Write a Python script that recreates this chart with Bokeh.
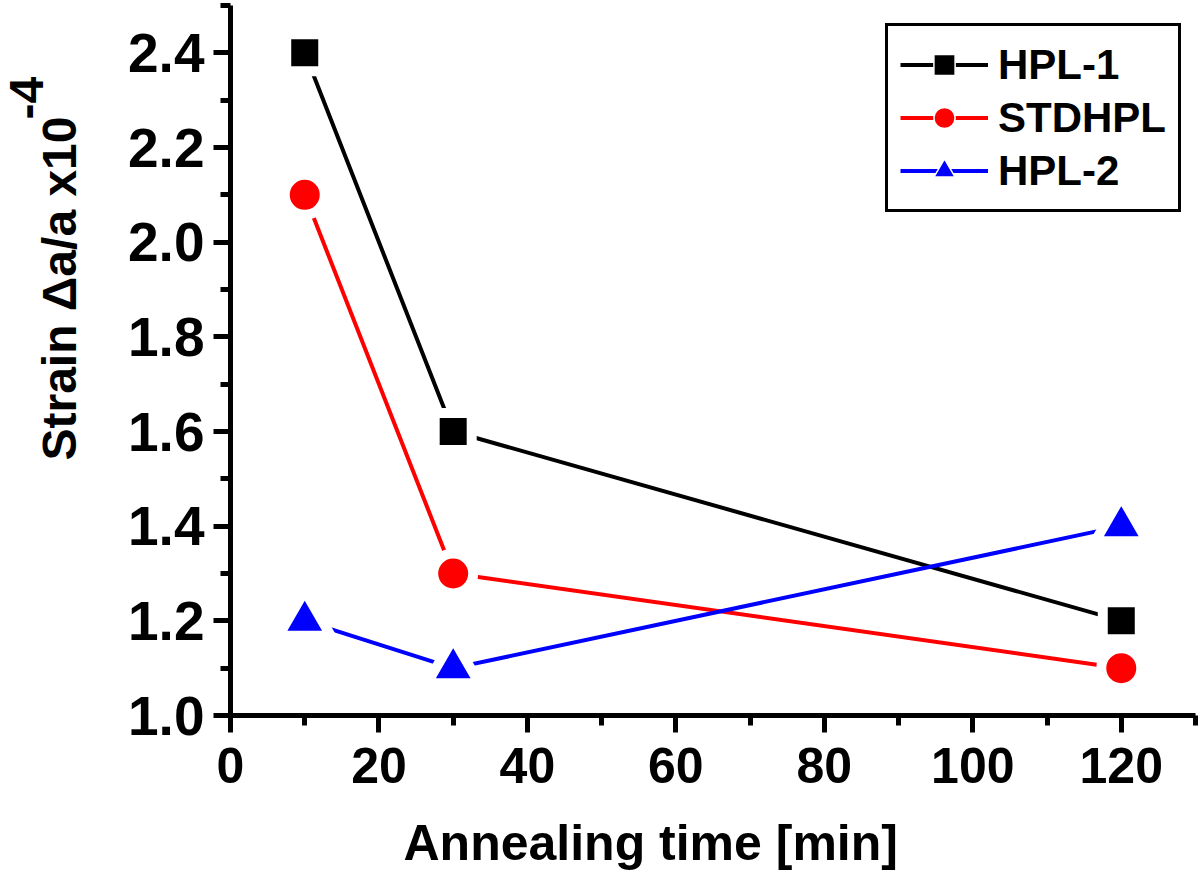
import numpy as np
from bokeh.plotting import figure
from bokeh.layouts import row, column
from bokeh.models import (Range1d, Legend, LegendItem, Label, FixedTicker,
                          NumeralTickFormatter, ColumnDataSource)
from bokeh.embed import file_html
from bokeh.resources import INLINE

# ---- data ----
time_min = [10, 30, 120]
hpl1 = [2.4, 1.6, 1.2]
stdhpl = [2.1, 1.3, 1.1]
hpl2 = [1.2, 1.1, 1.4]
series_names = ["HPL-1", "STDHPL", "HPL-2"]
x_major_ticks = [0, 20, 40, 60, 80, 100, 120]
x_minor_ticks = [10, 30, 50, 70, 90, 110, 130]
y_major_ticks = [1.0, 1.2, 1.4, 1.6, 1.8, 2.0, 2.2, 2.4]
y_minor_ticks = [1.1, 1.3, 1.5, 1.7, 1.9, 2.1, 2.3, 2.5]
x_title = "Annealing time [min]"
y_title = "Strain \u0394a/a x10"
y_title_exp = "-4"

FONT = "Liberation Sans"
H = 870
LEFT_W = 110
MAIN_W = 1090
MAIN_H = 805
BOT_H = H - MAIN_H


def blank(width, height):
    f = figure(width=width, height=height, x_range=Range1d(0, 1),
               y_range=Range1d(0, 1), x_axis_type=None, y_axis_type=None,
               output_backend="svg", toolbar_location=None,
               min_border=0)
    f.outline_line_color = None
    f.xgrid.visible = False
    f.ygrid.visible = False
    return f


# ---- main plot ----
p = figure(width=MAIN_W, height=MAIN_H, x_range=Range1d(0, 130),
           y_range=Range1d(1.0, 2.5),
           output_backend="svg", toolbar_location=None,
           min_border_left=120, min_border_right=5, min_border_top=5,
           min_border_bottom=90)
p.outline_line_color = None
p.xgrid.visible = False
p.ygrid.visible = False

p.xaxis.ticker = FixedTicker(ticks=x_major_ticks, minor_ticks=x_minor_ticks)
p.yaxis.ticker = FixedTicker(ticks=y_major_ticks, minor_ticks=y_minor_ticks)
p.xaxis.formatter = NumeralTickFormatter(format="0")
p.yaxis.formatter = NumeralTickFormatter(format="0.0")

for ax in (p.xaxis, p.yaxis):
    ax.axis_line_width = 5
    ax.axis_line_color = "black"
    ax.major_tick_line_width = 5
    ax.minor_tick_line_width = 5
    ax.major_tick_line_color = "black"
    ax.minor_tick_line_color = "black"
    ax.major_tick_in = 0
    ax.major_tick_out = 17
    ax.minor_tick_in = 0
    ax.minor_tick_out = 10
    ax.major_label_text_font = FONT
    ax.major_label_text_font_style = "bold"
    ax.major_label_text_color = "black"
p.xaxis.major_label_text_font_size = "50px"
p.yaxis.major_label_text_font_size = "55px"
p.xaxis.major_label_standoff = 15
p.yaxis.major_label_standoff = 9

colors = ["black", "red", "blue"]
markers = ["square", "circle", "triangle"]
sizes = [37, 40, 52]
values = [hpl1, stdhpl, hpl2]

items = []
for name, vals, col, mk, sz in zip(series_names, values, colors, markers, sizes):
    src = ColumnDataSource(dict(x=time_min, y=vals))
    ln = p.line("x", "y", source=src, line_color=col, line_width=4)
    p.scatter("x", "y", source=src, marker=mk, size=sz, fill_color=col,
              line_color="white", line_width=10, line_join="round")
    leg = p.scatter("x", "y", source=src, marker=mk, size=sz, fill_color=col,
                    line_color="white", line_width=1.5, visible=False)
    items.append(LegendItem(label=name, renderers=[ln, leg]))

legend = Legend(items=items, location=(655, 503),
                glyph_width=88, glyph_height=53, spacing=0, padding=12,
                label_standoff=10, label_text_font=FONT,
                label_text_font_style="bold", label_text_font_size="42px",
                label_text_color="black",
                border_line_color="black", border_line_width=3,
                border_line_alpha=1.0,
                background_fill_color="white", background_fill_alpha=1.0)
p.add_layout(legend)

# ---- y-axis title panel ----
pt = blank(LEFT_W, H)
pt.add_layout(Label(x=59, y=410, x_units="screen", y_units="screen",
                    angle=np.pi / 2, text=y_title, text_font=FONT,
                    text_font_style="bold", text_font_size="48px",
                    text_align="left", text_baseline="alphabetic",
                    text_color="black"))
pt.add_layout(Label(x=26, y=751, x_units="screen", y_units="screen",
                    angle=np.pi / 2, text=y_title_exp, text_font=FONT,
                    text_font_style="bold", text_font_size="48px",
                    text_align="left", text_baseline="alphabetic",
                    text_color="black"))

# ---- x-axis title panel ----
pb = blank(MAIN_W, BOT_H)
pb.add_layout(Label(x=173, y=28, x_units="screen", y_units="screen",
                    text=x_title, text_font=FONT, text_font_style="bold",
                    text_font_size="50px", text_align="left",
                    text_baseline="alphabetic", text_color="black"))

layout = row(pt, column(p, pb))
open("out.html", "w").write(file_html(layout, INLINE))
